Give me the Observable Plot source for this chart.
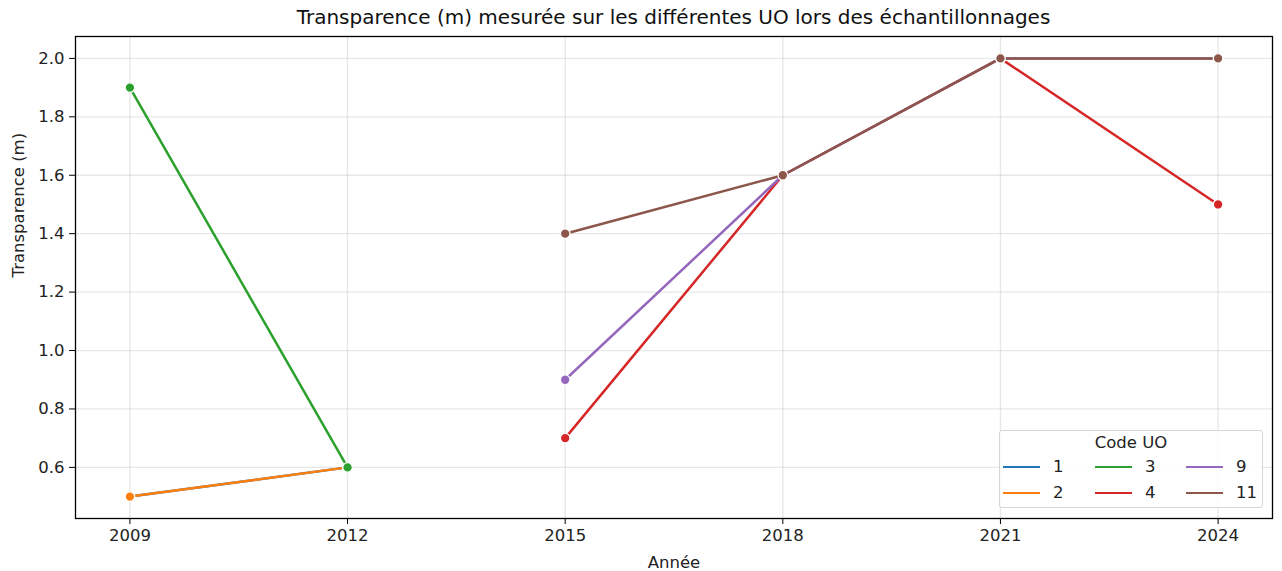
<!DOCTYPE html>
<html>
<head>
<meta charset="utf-8">
<script src="https://cdn.jsdelivr.net/npm/d3@7"></script>
<script src="https://cdn.jsdelivr.net/npm/@observablehq/plot@0.6"></script>
<style>
  html, body { margin: 0; padding: 0; background: #fff; }
  body { width: 1282px; height: 571px; position: relative; overflow: hidden; font-family: "DejaVu Sans", sans-serif; color: #000; }
  #title { position: absolute; left: 75px; width: 1197px; top: 6px; line-height: 23px; text-align: center; font-size: 20px; color: #111; }
  #chart { position: absolute; left: 0; top: 30px; }
  #legend { position: absolute; left: 999px; top: 430px; width: 262px; height: 76px; border: 1px solid #d5d5d5; border-radius: 3px; background: rgba(255,255,255,0.85); font-size: 16.5px; line-height: 20px; color: #222; }
  #legend .lt { position: absolute; left: 0; width: 100%; top: 2px; text-align: center; }
  #legend .it { position: absolute; height: 20px; }
  #legend .sw { position: absolute; left: 0; top: 9px; width: 37px; height: 0; border-top: 2.5px solid; }
  #legend .lb { position: absolute; left: 50px; top: 0; white-space: nowrap; }
</style>
</head>
<body>
<div id="title">Transparence (m) mesurée sur les différentes UO lors des échantillonnages</div>
<div id="chart"></div>
<div id="legend"><div class="lt">Code UO</div></div>
<script>
const years = [2009, 2012, 2015, 2018, 2021, 2024];
const uoCodes = ["1", "2", "3", "4", "9", "11"];
const uoColors = ["#1f77b4", "#ff7f0e", "#2ca02c", "#d62728", "#9467bd", "#8c564b"];
const uo1 = [0.5, 0.6, null, null, null, null];
const uo2 = [0.5, 0.6, null, null, null, null];
const uo3 = [1.9, 0.6, null, null, null, null];
const uo4 = [null, null, 0.7, 1.6, 2.0, 1.5];
const uo9 = [null, null, 0.9, 1.6, 2.0, 2.0];
const uo11 = [null, null, 1.4, 1.6, 2.0, 2.0];
const yTicks = [0.6, 0.8, 1.0, 1.2, 1.4, 1.6, 1.8, 2.0];

const seriesValues = [uo1, uo2, uo3, uo4, uo9, uo11];
const rows = [];
uoCodes.forEach((code, i) => {
  seriesValues[i].forEach((v, j) => {
    if (v != null) rows.push({uo: code, year: years[j], value: v});
  });
});

const marks = [
  Plot.gridX(years, {stroke: "#b0b0b0", strokeOpacity: 0.3, strokeWidth: 1.3}),
  Plot.gridY(yTicks, {stroke: "#b0b0b0", strokeOpacity: 0.3, strokeWidth: 1.3}),
];
uoCodes.forEach(code => {
  const d = rows.filter(r => r.uo === code);
  marks.push(Plot.line(d, {x: "year", y: "value", stroke: "uo", strokeWidth: 2.5}));
  marks.push(Plot.dot(d, {x: "year", y: "value", fill: "uo", r: 4.8, stroke: "white", strokeWidth: 1.3}));
});
marks.push(
  Plot.frame({stroke: "black", strokeWidth: 1.3}),
  Plot.axisX(years, {tickFormat: "d", tickSize: 6, tickPadding: 5, fontSize: 16.5, label: null, stroke: "black", fill: "#222"}),
  Plot.axisY(yTicks, {tickFormat: ".1f", tickSize: 6, tickPadding: 5, fontSize: 16.5, label: null, stroke: "black", fill: "#222"}),
  Plot.text(["Transparence (m)"], {text: d => d, frameAnchor: "left", dx: -57, rotate: -90, lineAnchor: "middle", fontSize: 16.5, fill: "#222"}),
  Plot.text(["Année"], {text: d => d, frameAnchor: "bottom", dy: 44, lineAnchor: "middle", fontSize: 16.5, fill: "#222"})
);

const chart = Plot.plot({
  width: 1282,
  height: 541,
  marginTop: 6,
  marginBottom: 53,
  marginLeft: 75,
  marginRight: 10,
  style: {fontFamily: "DejaVu Sans, sans-serif", fontSize: "16.5px", background: "white"},
  x: {domain: [2008.25, 2024.75]},
  y: {domain: [0.425, 2.075]},
  color: {domain: uoCodes, range: uoColors},
  marks
});
document.getElementById("chart").appendChild(chart);

// legend
const legend = document.getElementById("legend");
const colX = [3, 95, 186];
const rowY = [26, 52];
uoCodes.forEach((code, i) => {
  const col = Math.floor(i / 2), row = i % 2;
  const it = document.createElement("div");
  it.className = "it";
  it.style.left = colX[col] + "px";
  it.style.top = rowY[row] + "px";
  const sw = document.createElement("div");
  sw.className = "sw";
  sw.style.borderTopColor = uoColors[i];
  const lb = document.createElement("div");
  lb.className = "lb";
  lb.textContent = code;
  it.appendChild(sw); it.appendChild(lb);
  legend.appendChild(it);
});
</script>
</body>
</html>
